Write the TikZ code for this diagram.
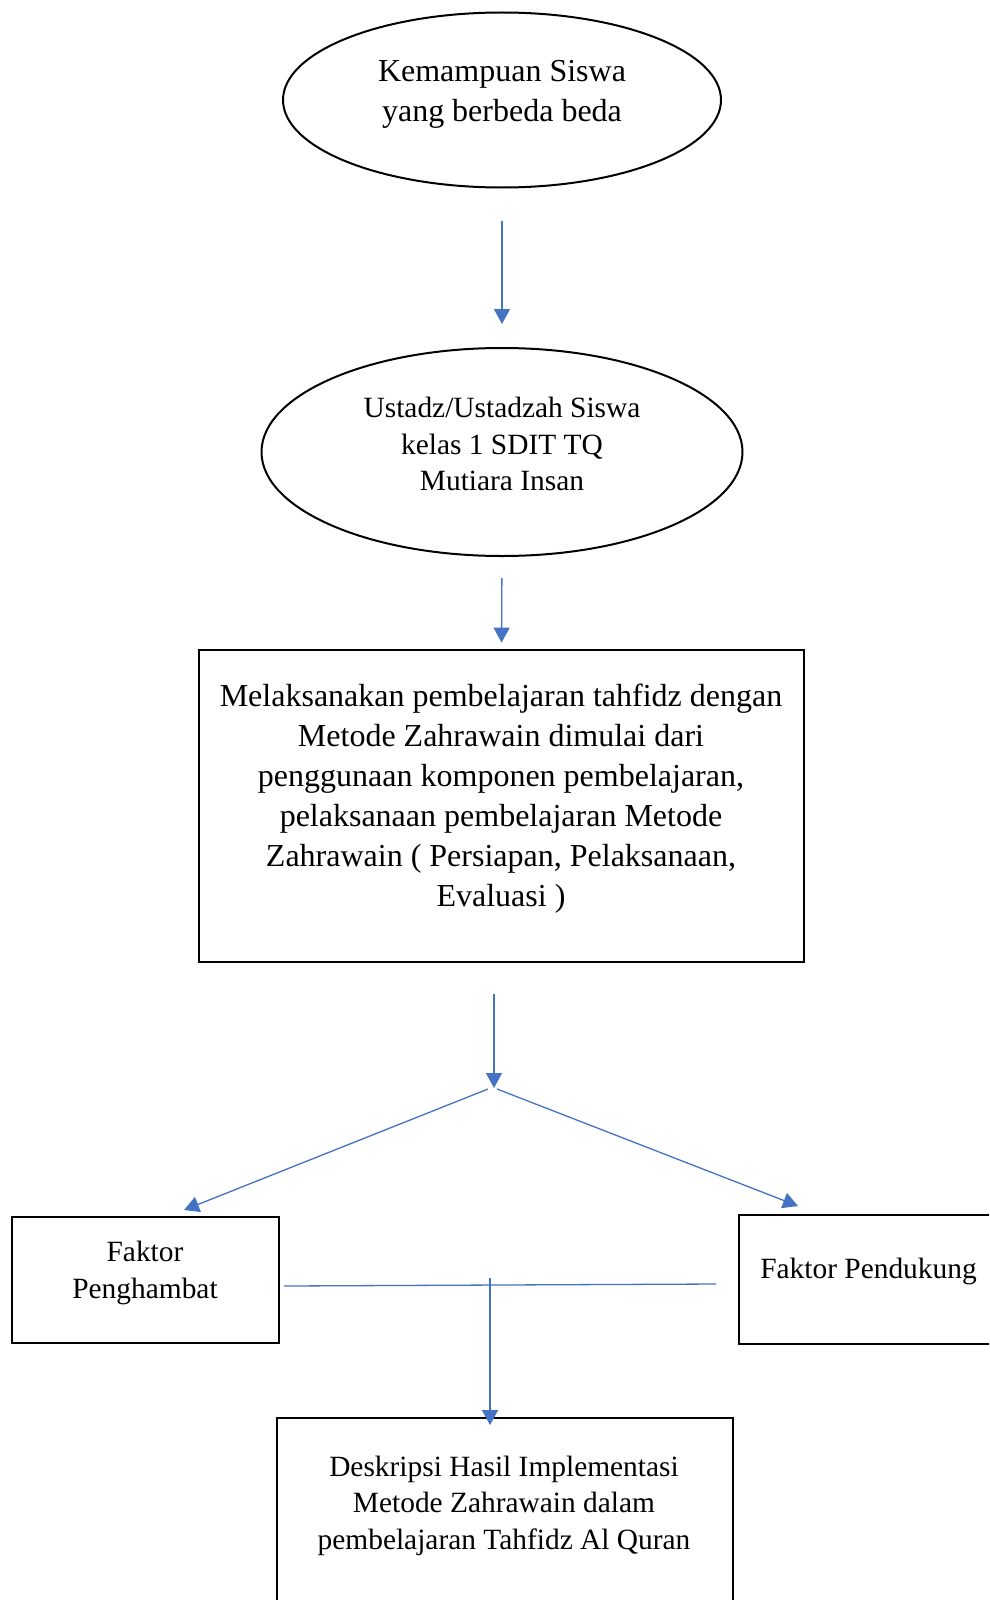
\documentclass[tikz,border=0pt]{standalone}
\usepackage{fontspec}
\setmainfont{Liberation Serif}
\usetikzlibrary{arrows.meta,shapes.geometric}
\definecolor{flow}{RGB}{68,114,196}
\begin{document}
\begin{tikzpicture}[x=1pt,y=-1pt,
  oval/.style={draw, ellipse, line width=2pt, inner sep=0pt},
  frame/.style={draw, rectangle, line width=2.8pt, inner sep=0pt},
  big/.style={align=center, inner sep=0pt, font=\fontsize{32}{40}\selectfont},
  small/.style={align=center, inner sep=0pt, font=\fontsize{29.4}{36.5}\selectfont},
  arr/.style={draw=flow, line width=1.3pt, -{Triangle[width=16pt,length=15pt]}},
  ln/.style={draw=flow, line width=1.3pt}]
\clip (0,0) rectangle (989,1600);
\fill[white] (0,0) rectangle (989,1600);

% shapes
\node[oval, minimum width=438pt, minimum height=175pt] (e1) at (502,100) {};
\node[oval, minimum width=481pt, minimum height=208pt] (e2) at (502,452) {};
\node[frame, minimum width=605pt, minimum height=312pt] (r3) at (501.5,806) {};
\node[frame, minimum width=267pt, minimum height=126pt] (b1) at (145.5,1280) {};
\node[frame, minimum width=259pt, minimum height=129pt] (b2) at (868.5,1279.5) {};
\node[frame, minimum width=456pt, minimum height=282pt] (b4) at (505,1559) {};

% texts
\node[big] (t1) at (502,94) {Kemampuan Siswa\\yang berbeda beda};
\node[small] (t2) at (502,444) {Ustadz/Ustadzah Siswa\\kelas 1 SDIT TQ\\Mutiara Insan};
\node[big] (t3) at (501,799) {Melaksanakan pembelajaran tahfidz dengan\\Metode Zahrawain dimulai dari\\penggunaan komponen pembelajaran,\\pelaksanaan pembelajaran Metode\\Zahrawain ( Persiapan, Pelaksanaan,\\Evaluasi )};
\node[small] (tb1) at (145,1273) {Faktor\\Penghambat};
\node[small] (tb2) at (868.5,1271) {Faktor Pendukung};
\node[small] (t4) at (504,1505.5) {Deskripsi Hasil Implementasi\\Metode Zahrawain dalam\\pembelajaran Tahfidz Al Quran};

% connector points
\coordinate (fork) at (494,1088);
\coordinate (forkL) at (488,1089);
\coordinate (forkR) at (497,1089);
\coordinate (tipL) at (184,1210);
\coordinate (tipR) at (798,1206);
\coordinate (barL) at (284,1286);
\coordinate (barR) at (716,1284);
\coordinate (dropTop) at (490,1278);
\coordinate (dropEnd) at (490,1425);

% connectors
\draw[arr, shorten <=32pt, shorten >=23pt] (e1) -- (e2);
\draw[arr, shorten <=21pt, shorten >=6pt] (e2.south) -- (r3.north);
\draw[arr, shorten <=31pt] (fork |- r3.south) -- (fork);
\draw[arr] (forkL) -- (tipL);
\draw[arr] (forkR) -- (tipR);
\draw[ln] (barL) -- (barR);
\draw[arr] (dropTop) -- (dropEnd);
\end{tikzpicture}
\end{document}
